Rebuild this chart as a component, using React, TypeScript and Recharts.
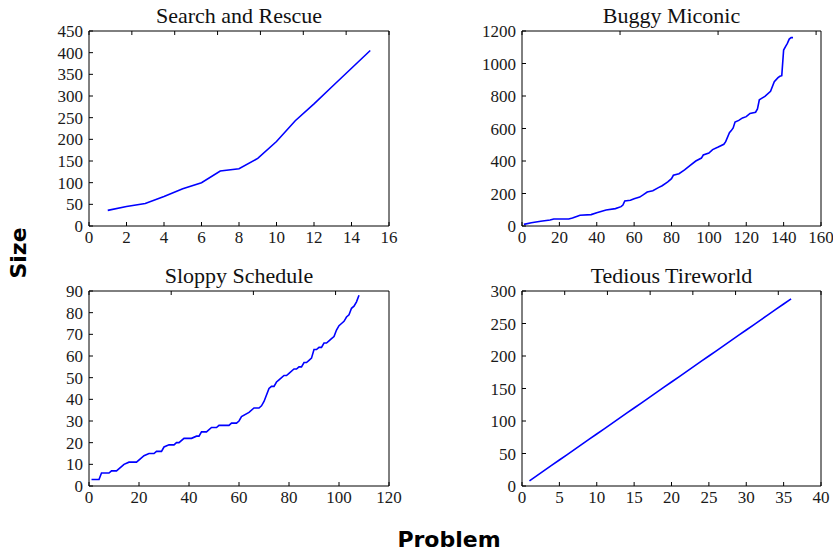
import { Line, LineChart, XAxis, YAxis } from 'recharts'

// Search and Rescue
const rescueProblems = [1, 2, 3, 4, 5, 6, 7, 8, 9, 10, 11, 12, 13, 14, 15]
const rescueSizes = [36, 45, 52, 68, 86, 100, 127, 132, 156, 195, 243, 282, 323, 364, 405]
const rescueXTicks = [0, 2, 4, 6, 8, 10, 12, 14, 16]
const rescueYTicks = [0, 50, 100, 150, 200, 250, 300, 350, 400, 450]

// Buggy Miconic
const miconicProblems = [
  1, 5, 10, 15, 17, 25, 27, 30, 31, 37, 40, 45, 50, 53, 54, 55, 58, 60, 63, 65, 67, 70, 73, 75, 78, 80, 81, 84,
  87, 90, 93, 96, 97, 100, 102, 105, 108, 109, 111, 112, 113, 114, 116, 118, 120, 122, 125, 126, 127, 128, 130,
  133, 135, 137, 138, 139, 140, 141, 142, 143, 144, 145,
]
const miconicSizes = [
  10, 20, 29, 37, 43, 43, 49, 62, 66, 70, 82, 98, 107, 119, 129, 154, 158, 168, 178, 193, 209, 217, 236, 248, 271,
  291, 312, 322, 345, 373, 400, 418, 437, 449, 470, 486, 503, 519, 574, 587, 603, 640, 650, 665, 673, 693, 700, 720,
  777, 784, 798, 829, 888, 913, 921, 925, 1083, 1104, 1124, 1150, 1159, 1159,
]
const miconicXTicks = [0, 20, 40, 60, 80, 100, 120, 140, 160]
const miconicYTicks = [0, 200, 400, 600, 800, 1000, 1200]

// Sloppy Schedule
const sloppyProblems = [
  1, 4, 5, 8, 9, 11, 14, 16, 19, 22, 24, 26, 27, 29, 30, 32, 34, 35, 36, 38, 41, 43, 44, 45, 47, 49, 51, 52, 56, 57,
  59, 60, 61, 64, 66, 68, 69, 70, 71, 72, 73, 74, 75, 76, 78, 79, 80, 82, 83, 84, 85, 86, 87, 88, 89, 90, 91, 92,
  93, 94, 95, 96, 97, 98, 99, 100, 101, 102, 103, 104, 105, 106, 107, 108,
]
const sloppySizes = [
  3, 3, 6, 6, 7, 7, 10, 11, 11, 14, 15, 15, 16, 16, 18, 19, 19, 20, 20, 22, 22, 23, 23, 25, 25, 27, 27, 28, 28, 29,
  29, 30, 32, 34, 36, 36, 37, 39, 42, 45, 46, 46, 48, 49, 51, 51, 52, 54, 54, 55, 55, 57, 57, 58, 59, 63, 63, 64,
  64, 66, 66, 67, 68, 69, 72, 74, 75, 76, 78, 79, 82, 83, 85, 88,
]
const sloppyXTicks = [0, 20, 40, 60, 80, 100, 120]
const sloppyYTicks = [0, 10, 20, 30, 40, 50, 60, 70, 80, 90]

// Tedious Tireworld
const tireProblems = [
  1, 2, 3, 4, 5, 6, 7, 8, 9, 10, 11, 12, 13, 14, 15, 16, 17, 18, 19, 20, 21, 22, 23, 24, 25, 26, 27, 28, 29, 30, 31,
  32, 33, 34, 35, 36,
]
const tireSizes = [
  8, 16, 24, 32, 40, 48, 56, 64, 72, 80, 88, 96, 104, 112, 120, 128, 136, 144, 152, 160, 168, 176, 184, 192, 200,
  208, 216, 224, 232, 240, 248, 256, 264, 272, 280, 288,
]
const tireXTicks = [0, 5, 10, 15, 20, 25, 30, 35, 40]
const tireYTicks = [0, 50, 100, 150, 200, 250, 300]

const SERIF = '"Liberation Serif", "Times New Roman", serif'
const SANS = '"DejaVu Sans", sans-serif'
const FRAME = '#000'
const tickText = { fontSize: 17, fill: '#1a1a1a', fontFamily: SERIF }
const PAD_L = 60
const PAD_T = 40
const PAD_R = 24
const PAD_B = 30

interface PanelProps {
  title: string
  left: number
  top: number
  width: number
  height: number
  problems: number[]
  sizes: number[]
  xTicks: number[]
  yTicks: number[]
}

function Panel({ title, left, top, width, height, problems, sizes, xTicks, yTicks }: PanelProps) {
  const data = problems.map((p, i) => ({ problem: p, size: sizes[i] }))
  const xDomain = [xTicks[0], xTicks[xTicks.length - 1]]
  const yDomain = [yTicks[0], yTicks[yTicks.length - 1]]
  const axisLine = { stroke: FRAME, strokeWidth: 1 }
  const tickLine = { stroke: FRAME, strokeWidth: 1 }
  return (
    <>
      <div
        style={{
          position: 'absolute',
          left,
          width,
          top: top - 26.4,
          textAlign: 'center',
          fontFamily: SERIF,
          fontSize: 22,
          lineHeight: '22px',
          color: '#111',
          whiteSpace: 'nowrap',
        }}
      >
        {title}
      </div>
      <div style={{ position: 'absolute', left: left - PAD_L, top: top - PAD_T }}>
        <LineChart
          width={width + PAD_L + PAD_R}
          height={height + PAD_T + PAD_B}
          data={data}
          margin={{ top: PAD_T - 1, right: PAD_R - 1, bottom: 0, left: PAD_L - 50 }}
        >
          <XAxis
            dataKey="problem"
            type="number"
            domain={xDomain}
            ticks={xTicks}
            height={PAD_B}
            tickSize={-4}
            tickMargin={9}
            tick={tickText}
            axisLine={axisLine}
            tickLine={tickLine}
            interval={0}
          />
          <XAxis
            xAxisId="top"
            orientation="top"
            type="number"
            domain={xDomain}
            ticks={xTicks}
            height={1}
            tickSize={-4}
            tickFormatter={() => ''}
            axisLine={axisLine}
            tickLine={tickLine}
            interval={0}
          />
          <YAxis
            type="number"
            domain={yDomain}
            ticks={yTicks}
            width={50}
            tickSize={-4}
            tickMargin={10}
            tick={tickText}
            axisLine={axisLine}
            tickLine={tickLine}
            interval={0}
          />
          <YAxis
            yAxisId="right"
            orientation="right"
            type="number"
            domain={yDomain}
            ticks={yTicks}
            width={1}
            tickSize={-4}
            tickFormatter={() => ''}
            axisLine={axisLine}
            tickLine={tickLine}
            interval={0}
          />
          <Line
            type="linear"
            dataKey="size"
            stroke="#0000ff"
            strokeWidth={1.6}
            dot={false}
            activeDot={false}
            isAnimationActive={false}
          />
        </LineChart>
      </div>
    </>
  )
}

export default function App() {
  return (
    <div style={{ position: 'fixed', left: 0, top: 0, width: 833, height: 552, background: '#fff', overflow: 'hidden' }}>
      <Panel
        title="Search and Rescue"
        left={89}
        top={31}
        width={300}
        height={195}
        problems={rescueProblems}
        sizes={rescueSizes}
        xTicks={rescueXTicks}
        yTicks={rescueYTicks}
      />
      <Panel
        title="Buggy Miconic"
        left={522}
        top={31}
        width={299}
        height={195}
        problems={miconicProblems}
        sizes={miconicSizes}
        xTicks={miconicXTicks}
        yTicks={miconicYTicks}
      />
      <Panel
        title="Sloppy Schedule"
        left={89}
        top={291}
        width={300}
        height={195}
        problems={sloppyProblems}
        sizes={sloppySizes}
        xTicks={sloppyXTicks}
        yTicks={sloppyYTicks}
      />
      <Panel
        title="Tedious Tireworld"
        left={522}
        top={291}
        width={299}
        height={195}
        problems={tireProblems}
        sizes={tireSizes}
        xTicks={tireXTicks}
        yTicks={tireYTicks}
      />
      <div
        style={{
          position: 'absolute',
          left: 19,
          top: 253,
          transform: 'translate(-50%, -50%) rotate(-90deg)',
          fontFamily: SANS,
          fontWeight: 'bold',
          fontSize: 22,
          lineHeight: '22px',
          color: '#000',
        }}
      >
        Size
      </div>
      <div
        style={{
          position: 'absolute',
          left: 349,
          width: 200,
          top: 529.4,
          textAlign: 'center',
          fontFamily: SANS,
          fontWeight: 'bold',
          fontSize: 22,
          lineHeight: '22px',
          color: '#000',
        }}
      >
        Problem
      </div>
    </div>
  )
}
